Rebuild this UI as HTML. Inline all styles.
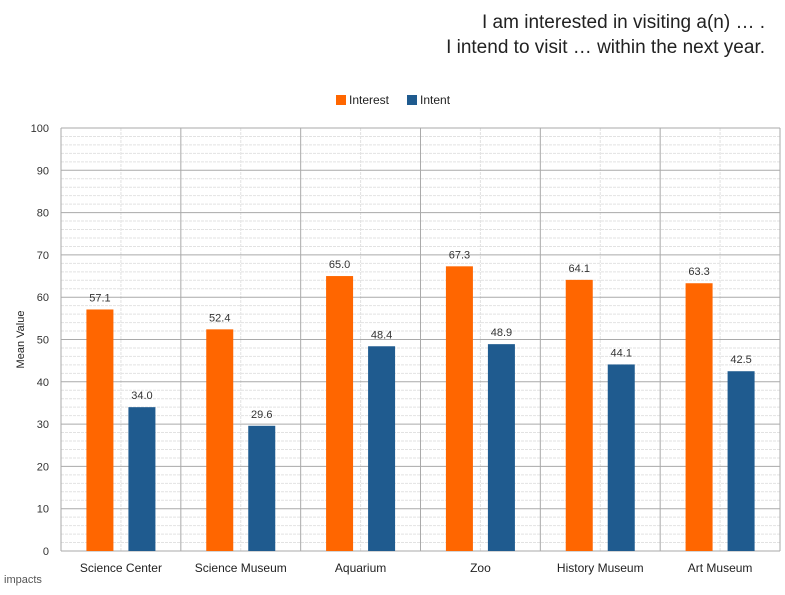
<!DOCTYPE html>
<html><head><meta charset="utf-8"><style>
body{margin:0;background:#fff;font-family:"Liberation Sans",sans-serif;}
#wrap{position:relative;width:785px;height:595px;overflow:hidden;background:#fff}
.title{position:absolute;right:20px;font-size:19px;color:#222;text-align:right;font-weight:300}
</style></head><body>
<div id="wrap">
<div class="title" style="top:12px">I am interested in visiting a(n) … .</div>
<div class="title" style="top:37px">I intend to visit … within the next year.</div>
<div style="position:absolute;left:4px;top:574px;font-size:11px;color:#555">impacts</div>
<svg id="chart" width="785" height="595" style="position:absolute;left:0;top:0"></svg>
</div>
<script>
const categories=["Science Center","Science Museum","Aquarium","Zoo","History Museum","Art Museum"];
const interest=[57.1,52.4,65.0,67.3,64.1,63.3];
const intent=[34.0,29.6,48.4,48.9,44.1,42.5];
const yTicks=[0,10,20,30,40,50,60,70,80,90,100];
const NS="http://www.w3.org/2000/svg";
const svg=document.getElementById('chart');
const L=61,R=780,T=128,B=551,yMax=100;
const cw=(R-L)/categories.length;
const y=v=>B-(v/yMax)*(B-T);
function mk(tag,attrs,parent){const e=document.createElementNS(NS,tag);for(const k in attrs)e.setAttribute(k,attrs[k]);(parent||svg).appendChild(e);return e;}
// minor grid
for(let v=0;v<=yMax;v+=2){if(v%10===0)continue;
const g=mk('line',{x1:L,x2:R,y1:y(v),y2:y(v),stroke:'#e2e2e2','stroke-dasharray':'3,1'});

}
categories.forEach((c,i)=>{const cx=L+cw*(i+0.5);
const g=mk('line',{x1:cx,x2:cx,y1:T,y2:B,stroke:'#e2e2e2','stroke-dasharray':'3,1'});

});
yTicks.forEach(v=>{
const g=mk('line',{x1:L,x2:R,y1:y(v),y2:y(v),stroke:'#aaa','stroke-width':1});


const t=mk('text',{x:L-12,y:y(v)+4,'text-anchor':'end','font-size':11,fill:'#333'});t.textContent=v;

});
for(let i=0;i<=categories.length;i++){const x=L+cw*i;
const g=mk('line',{x1:x,x2:x,y1:T,y2:B,stroke:'#aaa'});

}
const bw=27;
categories.forEach((c,i)=>{const cx=L+cw*(i+0.5);
[[interest[i],'#ff6600',-21,'bar-interest'],[intent[i],'#1f5b8f',21,'bar-intent']].forEach(([v,col,off,nm])=>{
const r=mk('rect',{x:cx+off-bw/2,y:y(v),width:bw,height:B-y(v),fill:col});


const t=mk('text',{x:cx+off,y:y(v)-8,'text-anchor':'middle','font-size':11,fill:'#333'});t.textContent=v.toFixed(1);

});
const t=mk('text',{x:cx,y:572,'text-anchor':'middle','font-size':12,fill:'#222'});t.textContent=c;

});
const yt=mk('text',{x:24,y:(T+B)/2,'text-anchor':'middle','font-size':11,fill:'#222',transform:`rotate(-90 24 ${(T+B)/2})`});yt.textContent='Mean Value';


[['Interest','#ff6600',336],['Intent','#1f5b8f',407]].forEach(([n,c,x])=>{
const r=mk('rect',{x:x,y:95,width:10,height:10,fill:c});


const t=mk('text',{x:x+13,y:104,'font-size':12,fill:'#222'});t.textContent=n;

});
</script>
</body></html>
